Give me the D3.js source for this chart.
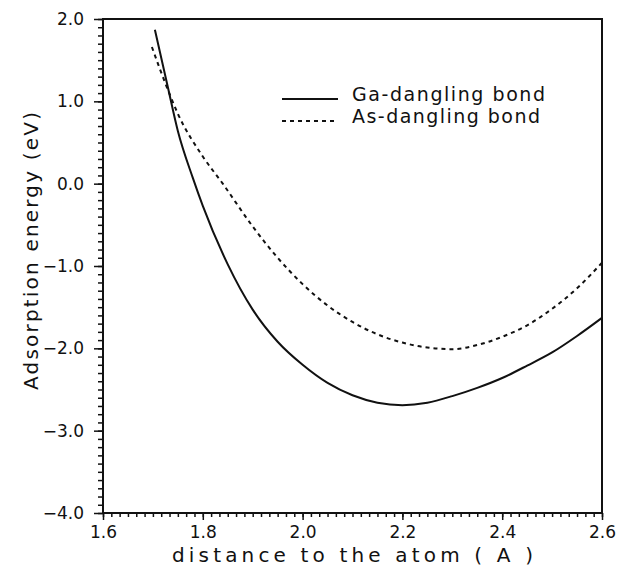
<!DOCTYPE html>
<html>
<head>
<meta charset="utf-8">
<script src="https://cdn.jsdelivr.net/npm/d3@7"></script>
<style>
  body { margin: 0; background: #fff; }
  text { font-family: 'DejaVu Sans', sans-serif; fill: #111; }
</style>
</head>
<body>
<div id="chart"></div>
<script>
// distance to the atom (A)
const gaDistance = [1.704, 1.73, 1.75, 1.78, 1.80, 1.85, 1.90, 1.95, 2.00, 2.05, 2.10, 2.15, 2.20, 2.25, 2.30, 2.35, 2.40, 2.45, 2.50, 2.55, 2.60];
// adsorption energy (eV), Ga-dangling bond
const gaEnergy = [1.87, 1.17, 0.64, 0.07, -0.27, -0.98, -1.53, -1.92, -2.20, -2.42, -2.57, -2.66, -2.69, -2.66, -2.58, -2.48, -2.36, -2.21, -2.05, -1.85, -1.63];

const asDistance = [1.698, 1.73, 1.75, 1.80, 1.84, 1.90, 1.95, 2.00, 2.05, 2.10, 2.15, 2.20, 2.25, 2.30, 2.35, 2.40, 2.45, 2.50, 2.55, 2.60];
// adsorption energy (eV), As-dangling bond
const asEnergy = [1.66, 1.14, 0.85, 0.33, 0.00, -0.52, -0.90, -1.22, -1.48, -1.68, -1.83, -1.93, -1.99, -2.01, -1.96, -1.86, -1.72, -1.52, -1.27, -0.96];

const xTickValues = [1.6, 1.8, 2.0, 2.2, 2.4, 2.6];
const yTickValues = [2, 1, 0, -1, -2, -3, -4];
const seriesNames = ["Ga-dangling bond", "As-dangling bond"];

const width = 623, height = 566;
const plotLeft = 103, plotRight = 602, plotTop = 19, plotBottom = 513;

const svg = d3.select("#chart").append("svg")
    .attr("width", width)
    .attr("height", height);

const x = d3.scaleLinear().domain([1.6, 2.6]).range([plotLeft, plotRight]);
const y = d3.scaleLinear().domain([-4, 2]).range([plotBottom, plotTop]);

// minor ticks: 12 per 0.2 on x, 10 per 1.0 on y
const xMinor = d3.range(0, 61).map(k => 1.6 + k / 60);
const yMinor = d3.range(0, 61).map(k => -4 + k / 10);

svg.append("g").attr("transform", `translate(0,${plotBottom})`)
    .call(d3.axisBottom(x).tickValues(xMinor).tickSize(4).tickFormat(""));
svg.append("g").attr("transform", `translate(${plotLeft},0)`)
    .call(d3.axisLeft(y).tickValues(yMinor).tickSize(5).tickFormat(""));

svg.append("g").attr("transform", `translate(0,${plotBottom})`)
    .call(d3.axisBottom(x).tickValues(xTickValues).tickSize(7).tickFormat(d3.format(".1f")))
    .call(g => g.selectAll("text").attr("y", 13).attr("dy", "0.71em").style("font-size", "17px"));

svg.append("g").attr("transform", `translate(${plotLeft},0)`)
    .call(d3.axisLeft(y).tickValues(yTickValues).tickSize(9).tickFormat(d3.format(".1f")))
    .call(g => g.selectAll("text").attr("x", -19).style("font-size", "17px"));

svg.selectAll(".domain").remove();
svg.selectAll(".tick line").attr("stroke", "#111").attr("stroke-width", 1.5);

// frame
svg.append("rect")
    .attr("x", plotLeft).attr("y", plotTop)
    .attr("width", plotRight - plotLeft).attr("height", plotBottom - plotTop)
    .attr("fill", "none").attr("stroke", "#111").attr("stroke-width", 2);

const line = d3.line()
    .x(d => x(d[0]))
    .y(d => y(d[1]))
    .curve(d3.curveMonotoneX);

svg.append("path")
    .datum(d3.zip(gaDistance, gaEnergy))
    .attr("d", line)
    .attr("fill", "none").attr("stroke", "#111").attr("stroke-width", 2);

svg.append("path")
    .datum(d3.zip(asDistance, asEnergy))
    .attr("d", line)
    .attr("fill", "none").attr("stroke", "#111").attr("stroke-width", 2)
    .attr("stroke-dasharray", "4,4");

// legend
const legend = svg.append("g");
seriesNames.forEach((name, i) => {
    const ly = 99 + i * 22;
    legend.append("line")
        .attr("x1", 282).attr("x2", 338)
        .attr("y1", ly).attr("y2", ly)
        .attr("stroke", "#111").attr("stroke-width", 2)
        .attr("stroke-dasharray", i === 0 ? null : "4,4");
    legend.append("text")
        .attr("x", 352).attr("y", ly + 1)
        .attr("dy", "0.05em")
        .style("font-size", "19px")
        .attr("textLength", i === 0 ? 193 : 188)
        .attr("lengthAdjust", "spacing")
        .text(name);
});

// axis titles
svg.append("text")
    .attr("x", (plotLeft + plotRight) / 2).attr("y", 562)
    .attr("text-anchor", "middle")
    .style("font-size", "20px")
    .attr("textLength", 361)
    .attr("lengthAdjust", "spacing")
    .text("distance to the atom ( A )");

svg.append("text")
    .attr("transform", `translate(38,251) rotate(-90)`)
    .attr("text-anchor", "middle")
    .style("font-size", "20px")
    .attr("textLength", 278)
    .attr("lengthAdjust", "spacing")
    .text("Adsorption energy (eV)");
</script>
</body>
</html>
